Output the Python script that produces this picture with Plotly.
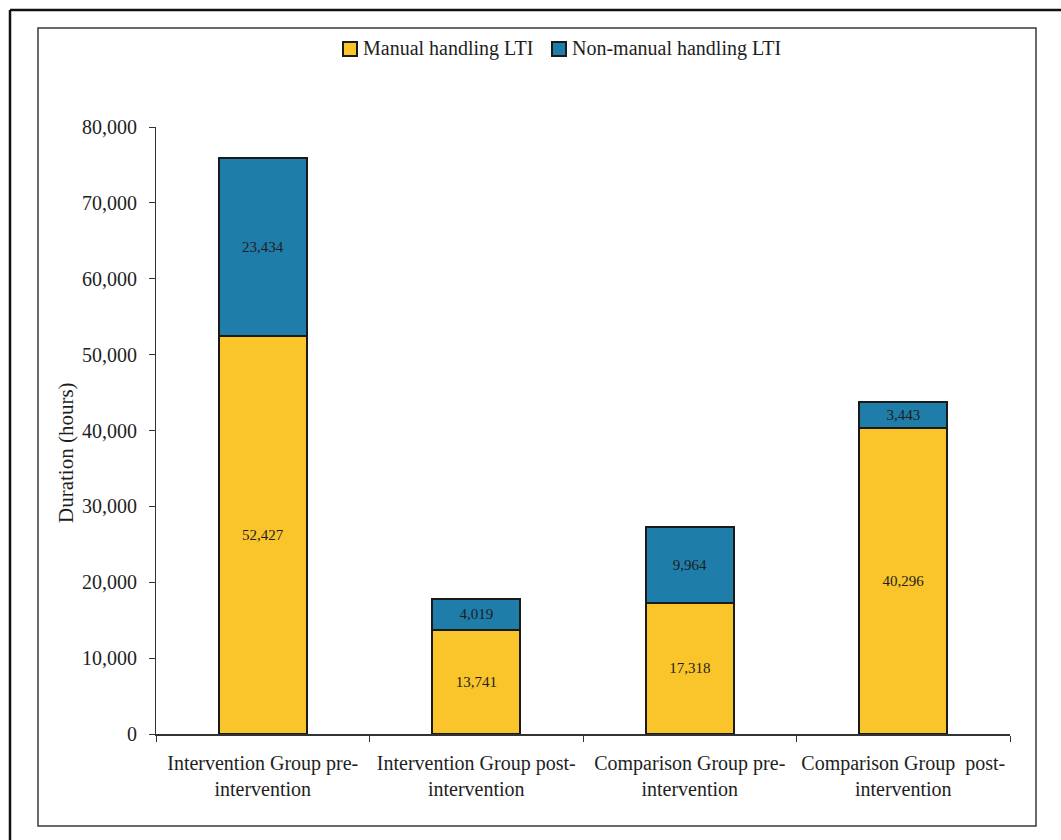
import plotly.graph_objects as go

# Lost-time-injury duration by group and period
categories = [
    "Intervention Group pre-<br>intervention",
    "Intervention Group post-<br>intervention",
    "Comparison Group pre-<br>intervention",
    "Comparison Group\u00a0 post-<br>intervention",
]
manual_lti = [52427, 13741, 17318, 40296]
non_manual_lti = [23434, 4019, 9964, 3443]
series_names = ["Manual handling LTI", "Non-manual handling LTI"]
y_ticks = [0, 10000, 20000, 30000, 40000, 50000, 60000, 70000, 80000]
y_title = "Duration (hours)"

YELLOW = "#F9C52B"
BLUE = "#1F7DAA"
FONT = "Liberation Serif, Times New Roman, serif"
INK = "#1e1e1e"

W, H = 1061, 840
ML, MR, MT, MB = 156, 51, 127, 106
PW, PH = W - ML - MR, H - MT - MB


def px(x):
    return (x - ML) / PW


def py(y):
    return (H - MB - y) / PH


fig = go.Figure()
for name, vals, col in [(series_names[0], manual_lti, YELLOW),
                        (series_names[1], non_manual_lti, BLUE)]:
    fig.add_trace(go.Bar(
        x=categories, y=vals, name=name,
        marker=dict(color=col, line=dict(color="#1a1a1a", width=2)),
        width=0.41,
        text=[f"{v:,}" for v in vals],
        textposition="inside", insidetextanchor="middle",
        textangle=0, constraintext="none",
        insidetextfont=dict(family=FONT, size=15, color=INK),
        showlegend=False,
    ))

shapes = []
annotations = []

# frames around the chart
shapes.append(dict(type="rect", xref="paper", yref="paper",
                   x0=px(38), x1=px(1036), y0=py(826), y1=py(28),
                   line=dict(color="#3a3a3a", width=1.5), layer="below"))
shapes.append(dict(type="line", xref="paper", yref="paper",
                   x0=px(10), x1=px(1061), y0=py(10), y1=py(10),
                   line=dict(color="#111", width=2.5)))
shapes.append(dict(type="line", xref="paper", yref="paper",
                   x0=px(10), x1=px(10), y0=py(10), y1=py(840),
                   line=dict(color="#111", width=2.5)))

# legend drawn as swatches with labels
legend_items = [(343, YELLOW, series_names[0]), (552, BLUE, series_names[1])]
for x0, col, label in legend_items:
    shapes.append(dict(type="rect", xref="paper", yref="paper",
                       x0=px(x0), x1=px(x0 + 14), y0=py(56), y1=py(42),
                       fillcolor=col, line=dict(color="#1a1a1a", width=2)))
    annotations.append(dict(xref="paper", yref="paper",
                            x=px(x0 + 18), y=py(49), xanchor="left",
                            yanchor="middle", text=label, showarrow=False,
                            font=dict(family=FONT, size=20, color=INK)))

# vertical axis title
annotations.append(dict(xref="paper", yref="paper", x=px(66), y=py(453),
                        xanchor="center", yanchor="middle", textangle=-90,
                        text=y_title, showarrow=False,
                        font=dict(family=FONT, size=21, color=INK)))

fig.update_layout(
    barmode="stack",
    width=W, height=H,
    margin=dict(l=ML, r=MR, t=MT, b=MB, autoexpand=False),
    paper_bgcolor="white", plot_bgcolor="white",
    font=dict(family=FONT, size=20, color=INK),
    shapes=shapes, annotations=annotations,
    showlegend=False,
)
fig.update_xaxes(
    showline=True, linecolor="#333", linewidth=1.5,
    ticks="outside", tickson="boundaries", ticklen=6, tickcolor="#333",
    ticklabelstandoff=10,
    tickfont=dict(family=FONT, size=20, color=INK),
    showgrid=False, zeroline=False,
)
fig.update_yaxes(
    range=[0, 80000], tickvals=y_ticks, tickformat=",",
    showline=True, linecolor="#333", linewidth=1.2,
    ticks="outside", ticklen=6, tickcolor="#333",
    ticklabelstandoff=8,
    tickfont=dict(family=FONT, size=20, color=INK),
    showgrid=False, zeroline=False,
)

fig.write_html("out.html")
